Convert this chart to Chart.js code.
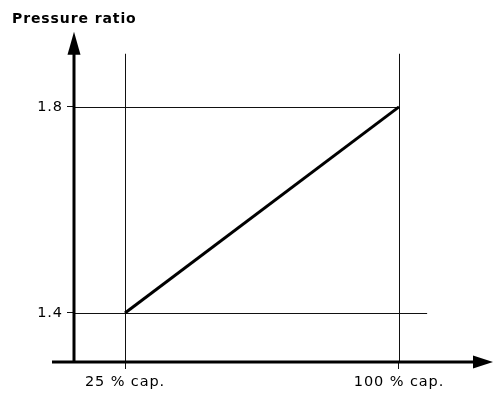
<!DOCTYPE html>
<html>
<head>
<meta charset="utf-8">
<script src="https://cdn.jsdelivr.net/npm/chart.js@4/dist/chart.umd.min.js"></script>
<style>
  html, body { margin: 0; padding: 0; background: #fff; }
  #wrap { width: 493px; height: 397px; }
</style>
</head>
<body>
<div id="wrap"><canvas id="myChart" width="493" height="397"></canvas></div>
<script>
// data
let capacity = [25, 100];          // % capacity
let pressureRatio = [1.4, 1.8];    // pressure ratio at those points
let xTicks = [25, 100];
let xTickLabels = ['25 % cap.', '100 % cap.'];
let yTicks = [1.4, 1.8];

const FONT = '"DejaVu Sans", "Liberation Sans", Arial, sans-serif';

// thin guide lines and the two arrow axes
let guidesAndArrows = {
    id: 'guidesAndArrows',
    beforeDraw(chart) {
        chart.ctx.letterSpacing = '0.9px';
    },
    beforeDatasetsDraw(chart, args, opts) {
        let ctx = chart.ctx, xs = chart.scales.x, ys = chart.scales.y, area = chart.chartArea;
        ctx.save();
        ctx.strokeStyle = '#111';
        ctx.lineWidth = 1;
        // vertical guides at the two capacities
        xTicks.forEach(v => {
            let px = Math.round(xs.getPixelForValue(v)) + 0.5;
            ctx.beginPath();
            ctx.moveTo(px, area.bottom);
            ctx.lineTo(px, ys.getPixelForValue(opts.vTop));
            ctx.stroke();
        });
        // horizontal guides at the two ratios, each with its own right end
        yTicks.forEach((v, i) => {
            let py = Math.round(ys.getPixelForValue(v)) + 0.5;
            ctx.beginPath();
            ctx.moveTo(area.left, py);
            ctx.lineTo(xs.getPixelForValue(opts.hEnd[i]), py);
            ctx.stroke();
        });
        ctx.restore();
    },
    afterDraw(chart) {
        let ctx = chart.ctx, area = chart.chartArea;
        let ax = area.left, ay = area.bottom;
        ctx.save();
        ctx.strokeStyle = '#000';
        ctx.fillStyle = '#000';
        ctx.lineWidth = 3;
        // y axis
        ctx.beginPath();
        ctx.moveTo(ax, ay);
        ctx.lineTo(ax, area.top + 22);
        ctx.stroke();
        ctx.beginPath();
        ctx.moveTo(ax, area.top);
        ctx.lineTo(ax - 6.5, area.top + 23);
        ctx.lineTo(ax + 6.5, area.top + 23);
        ctx.closePath();
        ctx.fill();
        // x axis
        ctx.beginPath();
        ctx.moveTo(ax - 22, ay);
        ctx.lineTo(area.right - 19, ay);
        ctx.stroke();
        ctx.beginPath();
        ctx.moveTo(area.right, ay);
        ctx.lineTo(area.right - 20, ay - 6.5);
        ctx.lineTo(area.right - 20, ay + 6.5);
        ctx.closePath();
        ctx.fill();
        ctx.restore();
    }
};

let ctx = document.getElementById('myChart').getContext('2d');
let chart = new Chart(ctx, {
    type: 'line',
    data: {
        datasets: [{
            data: capacity.map((c, i) => ({x: c, y: pressureRatio[i]})),
            borderColor: '#000',
            borderWidth: 3,
            pointRadius: 0,
            tension: 0,
            fill: false
        }]
    },
    options: {
        responsive: false,
        animation: false,
        layout: { padding: { left: 12, right: 0, top: 0, bottom: 0 } },
        plugins: {
            legend: { display: false },
            tooltip: { enabled: false },
            title: {
                display: true,
                text: 'Pressure ratio',
                align: 'start',
                color: '#000',
                font: { family: FONT, size: 14, weight: 'bold' },
                padding: { top: 10.5, bottom: 4.5 }
            },
            guidesAndArrows: { vTop: 1.903, hEnd: [107.7, 100] }
        },
        scales: {
            x: {
                type: 'linear',
                min: 11.04,
                max: 125.73,
                afterBuildTicks: s => { s.ticks = xTicks.map(v => ({value: v})); },
                afterFit: s => { s.height = 35; },
                ticks: {
                    color: '#000',
                    font: { family: FONT, size: 14.5 },
                    padding: 5,
                    maxRotation: 0,
                    autoSkip: false,
                    callback: v => xTickLabels[xTicks.indexOf(v)]
                },
                grid: { drawOnChartArea: false, drawTicks: true, tickLength: 7, color: '#111', lineWidth: 1 },
                border: { display: false }
            },
            y: {
                type: 'linear',
                min: 1.3049,
                max: 1.9456,
                afterBuildTicks: s => { s.ticks = yTicks.map(v => ({value: v})); },
                afterFit: s => { s.width = 62; },
                ticks: {
                    color: '#000',
                    font: { family: FONT, size: 14.5 },
                    padding: 4,
                    autoSkip: false,
                    callback: v => v.toFixed(1)
                },
                grid: { drawOnChartArea: false, drawTicks: true, tickLength: 7, color: '#111', lineWidth: 1 },
                border: { display: false }
            }
        }
    },
    plugins: [guidesAndArrows]
});
</script>
</body>
</html>
